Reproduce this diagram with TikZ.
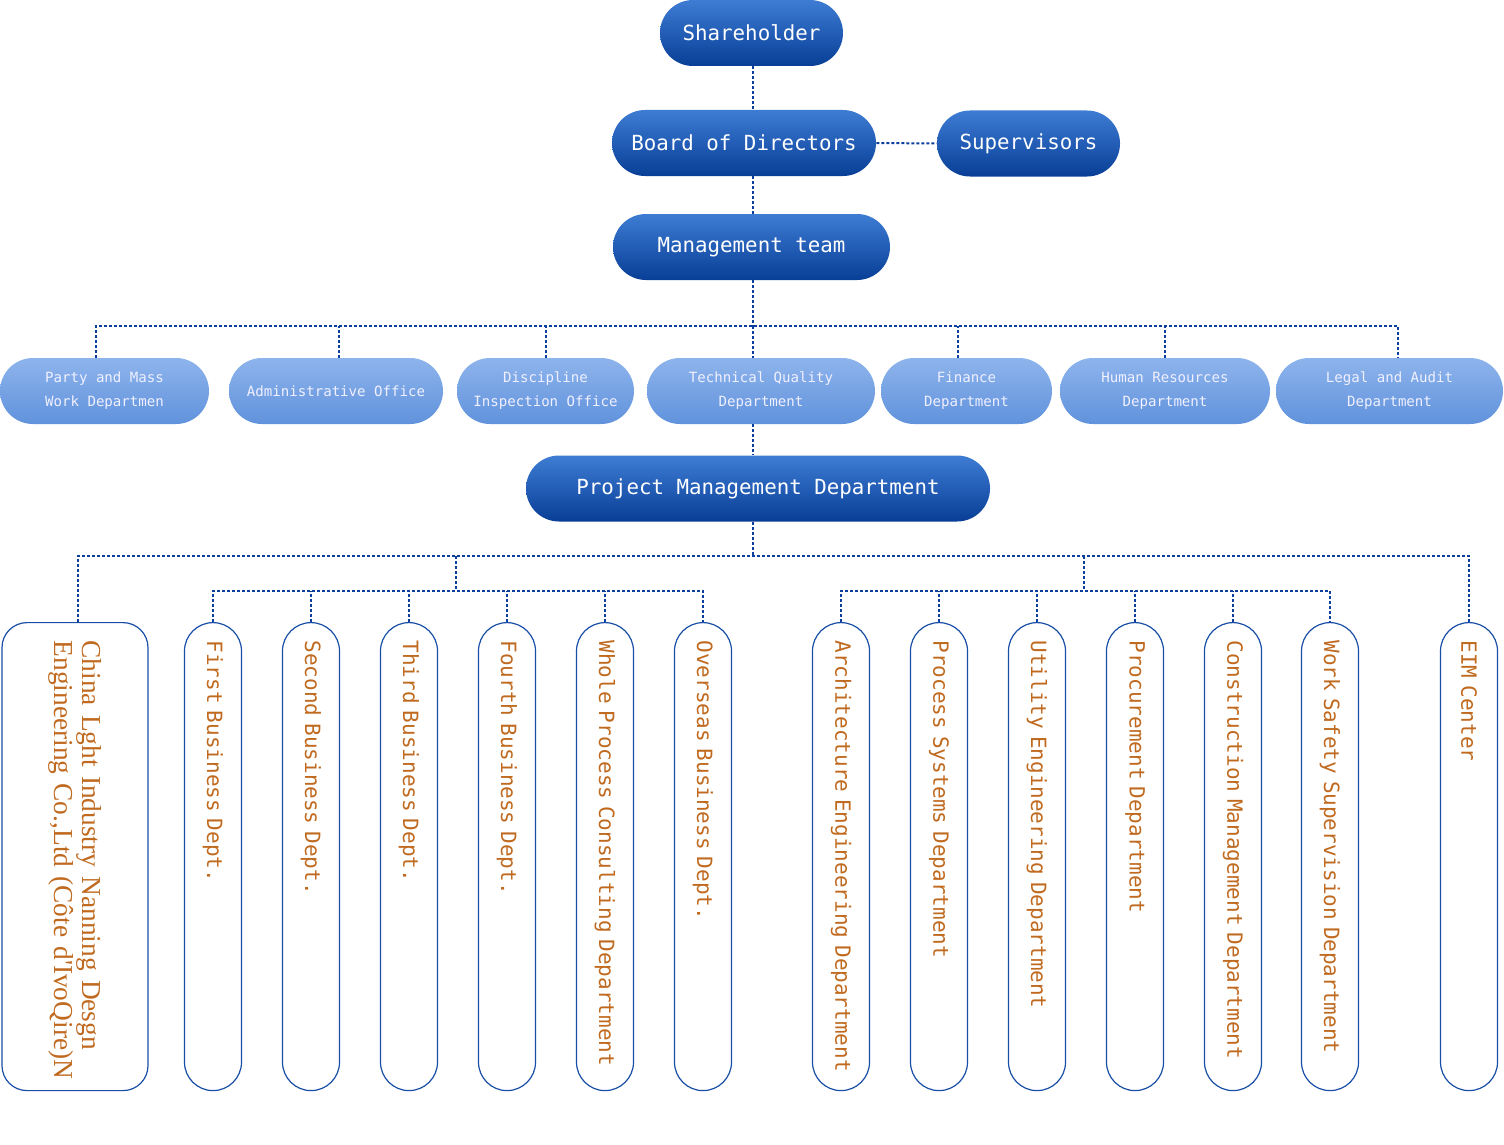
\documentclass[tikz,border=0pt]{standalone}
\usepackage{fontspec}
\newfontfamily\monofont{DejaVu Sans Mono}
\newfontfamily\serifcn{Liberation Serif}
\usetikzlibrary{shapes.misc}
\definecolor{darktop}{RGB}{62,124,212}
\definecolor{darkbot}{RGB}{8,62,150}
\definecolor{lighttop}{RGB}{142,180,236}
\definecolor{lightbot}{RGB}{96,146,220}
\definecolor{linkblue}{RGB}{10,64,156}
\definecolor{boxblue}{RGB}{24,78,166}
\definecolor{textbrown}{RGB}{192,106,32}
\tikzset{
	dark/.style={rounded rectangle, top color=darktop, bottom color=darkbot, text=white, minimum height=33pt, inner sep=0pt, font=\monofont\fontsize{10.4}{12}\selectfont},
	light/.style={rounded rectangle, top color=lighttop, bottom color=lightbot, text=white!94!blue, minimum height=33pt, inner sep=0pt, align=center, font=\monofont\fontsize{7.05}{12}\selectfont},
	colbase/.style={draw=boxblue, line width=0.6pt, rotate=-90, anchor=west, minimum width=234pt, inner ysep=0pt, align=left, text=textbrown},
	col/.style={colbase, rounded corners=14.25pt, minimum height=28.5pt, text width=228pt, inner xsep=3pt, execute at begin node={\hspace*{6pt}}, font=\monofont\fontsize{10.5}{12}\selectfont},
	china/.style={colbase, rounded corners=12.5pt, minimum height=73pt, text width=216pt, inner xsep=9pt, font=\serifcn\fontsize{13.7}{14}\selectfont},
	link/.style={draw=linkblue, line width=1pt, dash pattern=on 1.5pt off 1pt}
}

\begin{document}
\begin{tikzpicture}[x=0.5pt,y=-0.5pt]
	\useasboundingbox (0,0) rectangle (1504,1145);

	\node[dark, minimum width=91.5pt] (sh) at (751.5,33) {Shareholder};
	\node[dark, minimum width=132pt] (bod) at (744,143) {Board of Directors};
	\node[dark, minimum width=91.5pt] (sup) at (1028.5,143.5) {Supervisors};
	\node[dark, minimum width=138.5pt] (mt) at (751.5,247) {Management team};

	\node[light, minimum width=104.5pt] (pw) at (104.5,391) {Party and Mass\\Work Departmen};
	\node[light, minimum width=107pt] (ao) at (336,391) {Administrative Office};
	\node[light, minimum width=88.5pt] (di) at (545.5,391) {Discipline\\Inspection Office};
	\node[light, minimum width=114pt] (tq) at (761,391) {Technical Quality\\Department};
	\node[light, minimum width=85.5pt] (fd) at (966.5,391) {Finance\\Department};
	\node[light, minimum width=105pt] (hr) at (1165,391) {Human Resources\\Department};
	\node[light, minimum width=113.5pt] (la) at (1389.5,391) {Legal and Audit\\Department};

	\node[dark, minimum width=232pt] (pm) at (758,488.5) {Project Management Department};

	\node[china] (c0) at (75,622)
		{\mbox{China Lght Industry Nanning Desgn}\\\mbox{Engineering Co.,Ltd (Côte d\textquotesingle IvoQire)N}};
	\node[col] (c1) at (213,622) {First Business Dept.};
	\node[col] (c2) at (311,622) {Second Business Dept.};
	\node[col] (c3) at (409,622) {Third Business Dept.};
	\node[col] (c4) at (507,622) {Fourth Business Dept.};
	\node[col] (c5) at (605,622) {Whole Process Consulting Department};
	\node[col] (c6) at (703,622) {Overseas Business Dept.};
	\node[col] (c7) at (841,622) {Architecture Engineering Department};
	\node[col] (c8) at (939,622) {Process Systems Department};
	\node[col] (c9) at (1037,622) {Utility Engineering Department};
	\node[col] (c10) at (1135,622) {Procurement Department};
	\node[col] (c11) at (1233,622) {Construction Management Department};
	\node[col] (c12) at (1330,622) {Work Safety Supervision Department};
	\node[col] (c13) at (1469,622) {EIM Center};

	\coordinate (busA) at (753,326);
	\coordinate (busB) at (753,556);
	\coordinate (subL) at (456,591);
	\coordinate (subR) at (1084,591);

	\draw[link] (sh.south -| busA) -- (bod.north -| busA);
	\draw[link] (bod.east) -- (sup.west);
	\draw[link] (bod.south -| busA) -- (mt.north -| busA);
	\draw[link] (mt.south -| busA) -- (busA);
	\draw[link] ([xshift=-4.25pt]pw.north) |- (busA) -| ([xshift=4.25pt]la.north);
	\draw[link] ([xshift=1.5pt]ao.north) -- ([xshift=1.5pt]ao.north |- busA);
	\draw[link] (di.north) -- (di.north |- busA);
	\draw[link] ([xshift=-4.25pt]fd.north) -- ([xshift=-4.25pt]fd.north |- busA);
	\draw[link] (hr.north) -- (hr.north |- busA);
	\draw[link] (busA) -- (tq.north -| busA);
	\draw[link] (tq.south -| busA) -- (pm.north -| busA);

	\draw[link] (pm.south -| busB) -- (busB);
	\draw[link] ([xshift=1.5pt]c0.west) |- (busB) -| (c13.west);
	\draw[link] (subL |- busB) -- (subL);
	\draw[link] (c1.west) |- (subL) -| (c6.west);
	\draw[link] (c2.west) -- (c2.west |- subL);
	\draw[link] (c3.west) -- (c3.west |- subL);
	\draw[link] (c4.west) -- (c4.west |- subL);
	\draw[link] (c5.west) -- (c5.west |- subL);
	\draw[link] (subR |- busB) -- (subR);
	\draw[link] (c7.west) |- (subR) -| (c12.west);
	\draw[link] (c8.west) -- (c8.west |- subR);
	\draw[link] (c9.west) -- (c9.west |- subR);
	\draw[link] (c10.west) -- (c10.west |- subR);
	\draw[link] (c11.west) -- (c11.west |- subR);
\end{tikzpicture}
\end{document}
